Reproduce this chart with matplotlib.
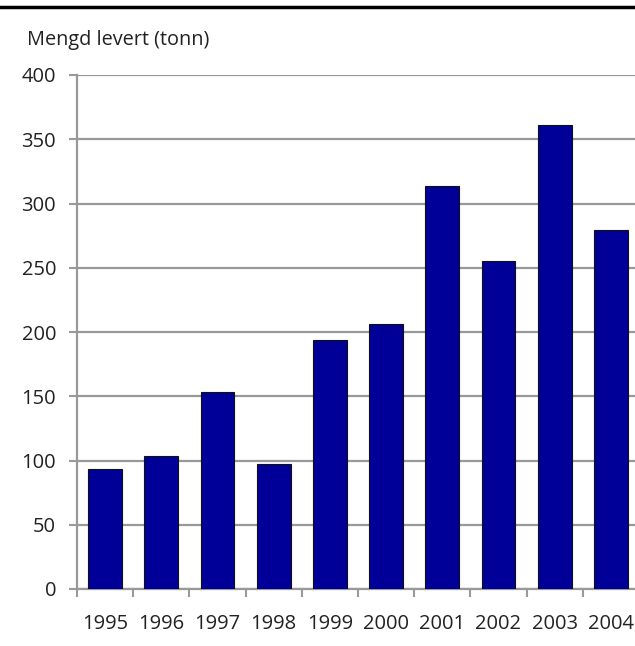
import matplotlib
matplotlib.use("Agg")
import matplotlib.pyplot as plt
from matplotlib.lines import Line2D

years = ["1995", "1996", "1997", "1998", "1999", "2000", "2001", "2002", "2003", "2004"]
values = [93, 103.5, 153, 97, 194, 206, 314, 255, 361, 279]
yticks = [0, 50, 100, 150, 200, 250, 300, 350, 400]

plt.rcParams['font.family'] = ['Open Sans', 'DejaVu Sans']

fig = plt.figure(figsize=(6.35, 6.46), dpi=100)
ax = fig.add_axes([77/635, 57/646, 562/635, 514/646])

x = list(range(len(years)))
ax.bar(x, values, width=0.6, color='#000099', edgecolor='#111111', linewidth=0.8, zorder=3)

ax.set_xlim(-0.5, 9.5)
ax.set_ylim(0, 400)
ax.set_yticks(yticks)
ax.set_yticklabels([str(v) for v in yticks], fontsize=14.5, color='#222222')
ax.yaxis.grid(True, color='#999999', linewidth=1.6, zorder=0)
ax.set_axisbelow(True)

ax.set_xticks([i - 0.5 for i in range(len(years) + 1)])
ax.set_xticklabels([])
ax.set_xticks(x, minor=True)
ax.set_xticklabels(years, minor=True, fontsize=14.5, color='#222222')
ax.tick_params(axis='x', which='minor', length=0, pad=18)
ax.tick_params(axis='x', which='major', length=6, width=1.5, color='#999999', direction='out')
ax.tick_params(axis='y', length=6, width=1.5, color='#999999', direction='out', pad=9)

for s in ['top', 'right']:
    ax.spines[s].set_visible(False)
for s in ['left', 'bottom']:
    ax.spines[s].set_color('#999999')
    ax.spines[s].set_linewidth(1.6)

fig.add_artist(Line2D([0, 1], [1 - 7/646, 1 - 7/646], color='black', linewidth=2.5, transform=fig.transFigure))
fig.text(27/635, 1 - 45/646, "Mengd levert (tonn)", fontsize=14.3, color='#222222', va='baseline', ha='left')

fig.savefig("out.png", dpi=100)
